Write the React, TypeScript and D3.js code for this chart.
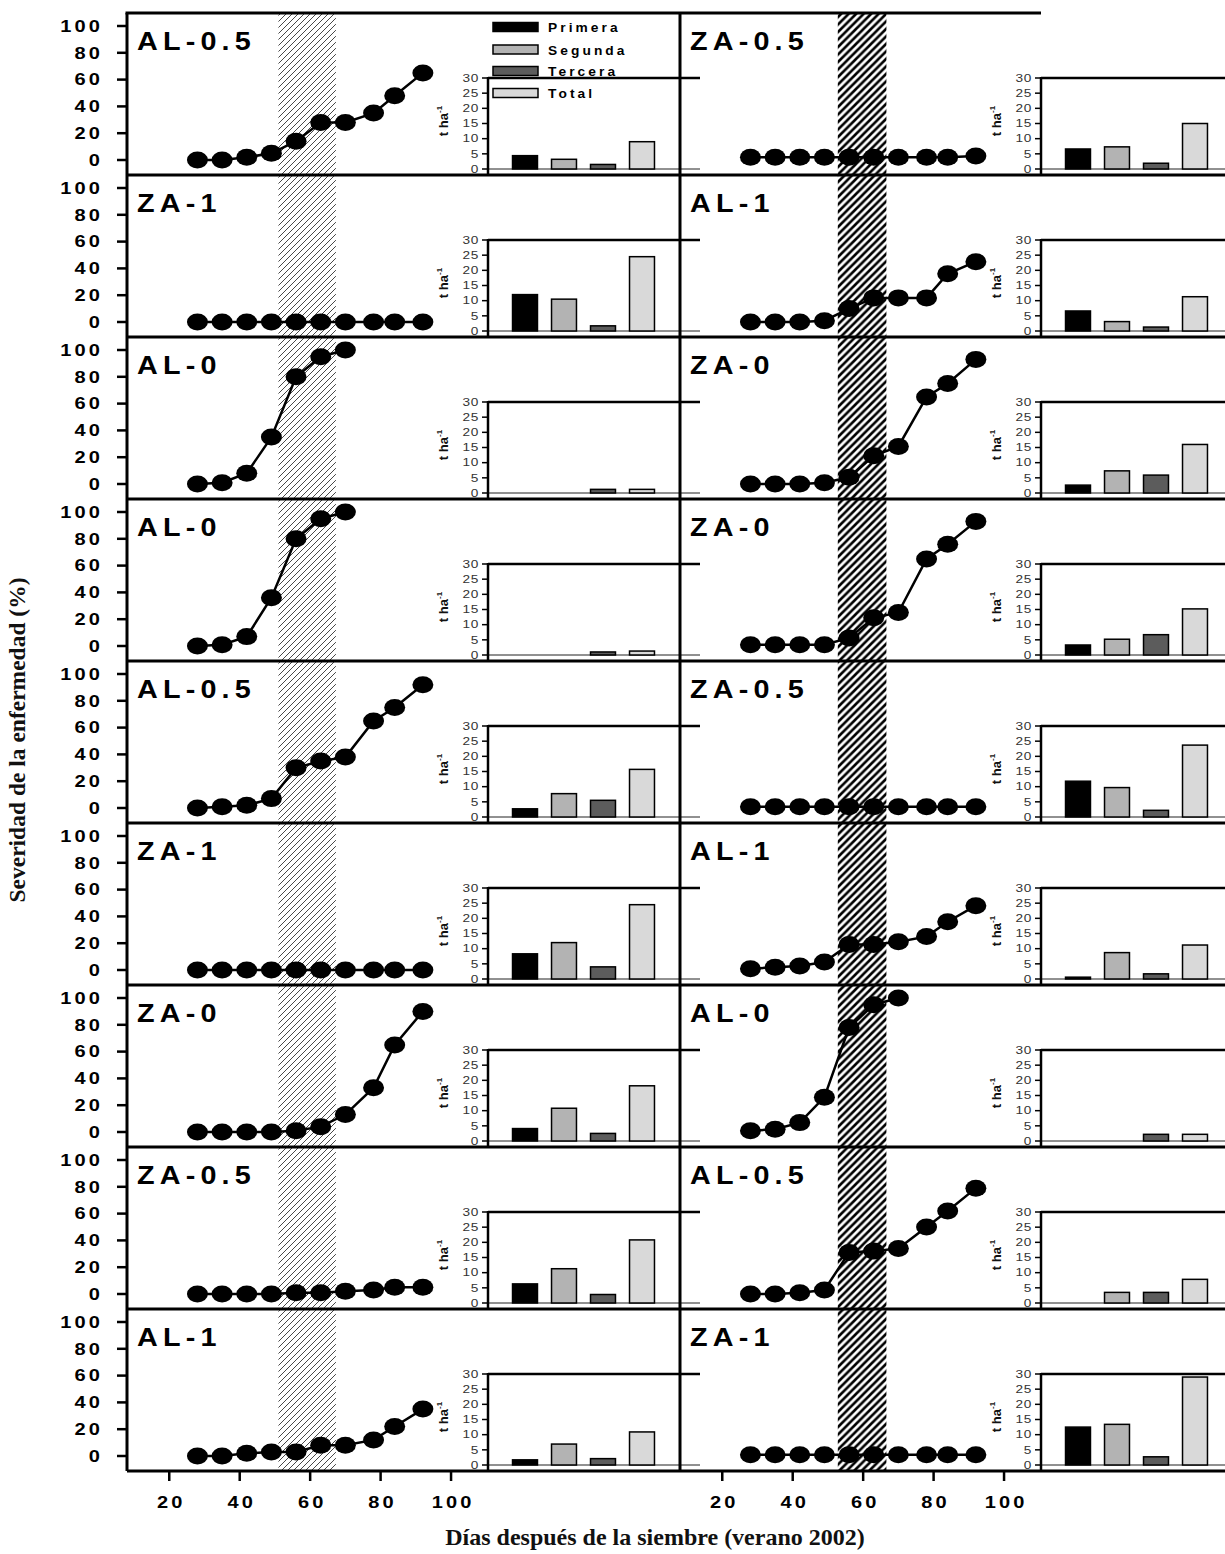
import React from 'react';
import * as d3 from 'd3';

// ---------- data ----------
const DAYS = [28, 35, 42, 49, 56, 63, 70, 78, 84, 92];
const LEFT_LABELS = ['AL-0.5', 'ZA-1', 'AL-0', 'AL-0', 'AL-0.5', 'ZA-1', 'ZA-0', 'ZA-0.5', 'AL-1'];
const RIGHT_LABELS = ['ZA-0.5', 'AL-1', 'ZA-0', 'ZA-0', 'ZA-0.5', 'AL-1', 'AL-0', 'AL-0.5', 'ZA-1'];

const LEFT_SEVERITY = [
  [0, 0, 2, 5, 14, 28, 28, 35, 48, 65],
  [0, 0, 0, 0, 0, 0, 0, 0, 0, 0],
  [0, 1, 8, 35, 80, 95, 100],
  [0, 1, 7, 36, 80, 95, 100],
  [0, 1, 2, 7, 30, 35, 38, 65, 75, 92],
  [0, 0, 0, 0, 0, 0, 0, 0, 0, 0],
  [0, 0, 0, 0, 1, 4, 13, 33, 65, 90],
  [0, 0, 0, 0, 1, 1, 2, 3, 5, 5],
  [0, 0, 2, 3, 3, 8, 8, 12, 22, 35],
];
const RIGHT_SEVERITY = [
  [2, 2, 2, 2, 2, 2, 2, 2, 2, 3],
  [0, 0, 0, 1, 10, 18, 18, 18, 36, 45],
  [0, 0, 0, 1, 5, 21, 28, 65, 75, 93],
  [1, 1, 1, 1, 6, 21, 25, 65, 76, 93],
  [1, 1, 1, 1, 1, 1, 1, 1, 1, 1],
  [1, 2, 3, 6, 19, 19, 21, 25, 36, 48],
  [1, 2, 7, 26, 78, 95, 100],
  [0, 0, 1, 3, 31, 32, 34, 50, 62, 79],
  [1, 1, 1, 1, 1, 1, 1, 1, 1, 1],
];

const CUTS = ['Primera', 'Segunda', 'Tercera', 'Total'];
const CUT_COLORS = ['#000000', '#b3b3b3', '#5c5c5c', '#d9d9d9'];
const LEFT_YIELD = [
  [4.4, 3.2, 1.5, 9.0],
  [12, 10.5, 1.7, 24.5],
  [0, 0, 1.2, 1.2],
  [0, 0, 1, 1.3],
  [2.7, 7.7, 5.5, 15.7],
  [8.3, 12, 4, 24.5],
  [4.1, 10.8, 2.5, 18.2],
  [6.3, 11.3, 2.8, 20.8],
  [1.7, 6.9, 2.1, 10.9],
];
const RIGHT_YIELD = [
  [6.6, 7.3, 1.9, 15],
  [6.6, 3.1, 1.3, 11.3],
  [2.6, 7.3, 5.9, 16],
  [3.3, 5.2, 6.7, 15.2],
  [11.8, 9.7, 2.2, 23.7],
  [0.6, 8.7, 1.7, 11.2],
  [0, 0, 2.2, 2.2],
  [0, 3.5, 3.5, 7.8],
  [12.5, 13.4, 2.7, 29],
];

const SEV_TICKS = [0, 20, 40, 60, 80, 100];
const DAY_TICKS = [20, 40, 60, 80, 100];
const YIELD_TICKS = [0, 5, 10, 15, 20, 25, 30];
const HATCH_LEFT = [51, 67.3];
const HATCH_RIGHT = [52.8, 66.6];

// ---------- layout ----------
const W = 1225;
const H = 1554;
const TOP = 13;
const ROW_H = 162;
const NROWS = 9;
const COL_X = [127, 680];
const COL_W = 553;
const BOTTOM = TOP + NROWS * ROW_H;
const INSET_OFF = 361;
const INSET_W = 192;
const SANS = "'Liberation Sans', Arial, sans-serif";
const SERIF = "'Liberation Serif', 'Times New Roman', serif";

function SText({ x, y, sx = 1, anchor = 'start', size, weight = 'normal', ls = 0, fill = '#000', children }: any) {
  return (
    <text
      transform={`translate(${x},${y}) scale(${sx},1)`}
      textAnchor={anchor}
      fontFamily={SANS}
      fontSize={size}
      fontWeight={weight}
      letterSpacing={ls}
      fill={fill}
    >
      {children}
    </text>
  );
}

function Panel({ col, row, label, sev, yields }: any) {
  const cx = COL_X[col];
  const top = TOP + row * ROW_H;
  const x = d3.scaleLinear().domain([8, 165]).range([cx, cx + COL_W]);
  const y = d3.scaleLinear().domain([0, 100]).range([top + 147, top + 13]);
  const ix0 = cx + INSET_OFF;
  const yy = d3.scaleLinear().domain([0, 30]).range([top + 156, top + 65]);
  const xb = d3
    .scaleBand<string>()
    .domain(CUTS)
    .range([ix0 + 17.5, ix0 + 173.5])
    .paddingInner(0.36)
    .paddingOuter(0.18);
  const pts = sev.map((v: number, i: number) => [DAYS[i], v]);
  const line = d3
    .line<number[]>()
    .x((d) => x(d[0]))
    .y((d) => y(d[1]));

  return (
    <g>
      {/* inset frame */}
      <line x1={ix0} x2={ix0 + INSET_W + 20} y1={top + 65} y2={top + 65} stroke="#000" strokeWidth={2.5} />
      <line x1={ix0} x2={ix0 + INSET_W + 20} y1={yy(0)} y2={yy(0)} stroke="#222" strokeWidth={1} />
      <line x1={ix0} x2={ix0} y1={top + 64} y2={top + ROW_H} stroke="#000" strokeWidth={2.5} />
      {YIELD_TICKS.map((t) => (
        <g key={t}>
          <line x1={ix0 - 6} x2={ix0} y1={yy(t)} y2={yy(t)} stroke="#000" strokeWidth={1.5} />
          <SText x={ix0 - 9} y={yy(t) + 3.8} sx={1.3} anchor="end" size={10.5} ls={0.5} fill="#333">
            {t}
          </SText>
        </g>
      ))}
      <text
        transform={`translate(${ix0 - 40},${top + 108}) rotate(-90)`}
        textAnchor="middle"
        fontFamily={SANS}
        fontSize={13}
        fontWeight="bold"
        fill="#111"
      >
        t ha
        <tspan dy={-6} fontSize={8}>
          -1
        </tspan>
      </text>
      {yields.map((v: number, i: number) =>
        v > 0 ? (
          <rect
            key={i}
            x={xb(CUTS[i])}
            width={xb.bandwidth()}
            y={yy(v)}
            height={yy(0) - yy(v)}
            fill={CUT_COLORS[i]}
            stroke="#000"
            strokeWidth={1.5}
          />
        ) : null
      )}
      {/* severity line */}
      <path d={line(pts) || ''} fill="none" stroke="#000" strokeWidth={2.5} />
      {pts.map((p: number[], i: number) => (
        <ellipse key={i} cx={x(p[0])} cy={y(p[1])} rx={10.5} ry={8.5} fill="#000" />
      ))}
      <SText x={cx + 10} y={top + 37} sx={1.15} size={25} weight="bold" ls={4.5}>
        {label}
      </SText>
    </g>
  );
}

export default function App() {
  const xs = COL_X.map((cx) => d3.scaleLinear().domain([8, 165]).range([cx, cx + COL_W]));
  const hatches = [HATCH_LEFT, HATCH_RIGHT];
  const ixR = COL_X[1] + INSET_OFF;
  return (
    <svg
      width={W}
      height={H}
      viewBox={`0 0 ${W} ${H}`}
      style={{ position: 'absolute', left: 0, top: 0, background: '#fff' }}
    >
      <defs>
        <pattern id="hatchL" patternUnits="userSpaceOnUse" width={6} height={6}>
          <path d="M-1,1 l2,-2 M0,6 l6,-6 M5,7 l2,-2" stroke="#333" strokeWidth={0.9} />
        </pattern>
        <pattern id="hatchR" patternUnits="userSpaceOnUse" width={7.5} height={7.5}>
          <path d="M-1.5,1.5 l3,-3 M0,7.5 l7.5,-7.5 M6,9 l3,-3" stroke="#000" strokeWidth={2.6} />
        </pattern>
      </defs>
      <rect x={0} y={0} width={W} height={H} fill="#fff" />
      {/* hatched periods */}
      {hatches.map((h, c) => (
        <rect
          key={c}
          x={xs[c](h[0])}
          width={xs[c](h[1]) - xs[c](h[0])}
          y={TOP}
          height={BOTTOM - TOP}
          fill={c === 0 ? 'url(#hatchL)' : 'url(#hatchR)'}
        />
      ))}
      {LEFT_LABELS.map((lab, r) => (
        <Panel key={'l' + r} col={0} row={r} label={lab} sev={LEFT_SEVERITY[r]} yields={LEFT_YIELD[r]} />
      ))}
      {RIGHT_LABELS.map((lab, r) => (
        <Panel key={'r' + r} col={1} row={r} label={lab} sev={RIGHT_SEVERITY[r]} yields={RIGHT_YIELD[r]} />
      ))}
      {/* legend */}
      {CUTS.map((c, i) => {
        const lx = COL_X[0] + INSET_OFF + 5;
        const ly = [22.5, 45, 66.5, 88.5][i];
        return (
          <g key={c}>
            <rect x={lx} y={ly} width={45} height={9} fill={CUT_COLORS[i]} stroke="#000" strokeWidth={1.5} />
            <SText x={lx + 55} y={ly + 9.5} sx={1.1} size={12.5} weight="bold" ls={2.8}>
              {c}
            </SText>
          </g>
        );
      })}
      {/* y ticks */}
      {d3.range(NROWS).map((r) => {
        const top = TOP + r * ROW_H;
        const y = d3.scaleLinear().domain([0, 100]).range([top + 147, top + 13]);
        return (
          <g key={r}>
            {SEV_TICKS.map((t) => (
              <g key={t}>
                <line x1={117} x2={127} y1={y(t)} y2={y(t)} stroke="#000" strokeWidth={2.5} />
                <SText x={103} y={y(t) + 5.8} sx={1.25} anchor="end" size={16} weight="bold" ls={2.5}>
                  {t}
                </SText>
              </g>
            ))}
          </g>
        );
      })}
      {/* borders */}
      {d3.range(1, NROWS).map((r) => (
        <line key={r} x1={127} x2={W} y1={TOP + r * ROW_H} y2={TOP + r * ROW_H} stroke="#000" strokeWidth={3} />
      ))}
      <line x1={127} x2={W} y1={BOTTOM} y2={BOTTOM} stroke="#000" strokeWidth={3} />
      <line x1={125.5} x2={680} y1={TOP} y2={TOP} stroke="#000" strokeWidth={3} />
      <line x1={680} x2={ixR} y1={TOP} y2={TOP} stroke="#000" strokeWidth={3} />
      <line x1={127} x2={127} y1={TOP} y2={BOTTOM} stroke="#000" strokeWidth={3} />
      <line x1={680} x2={680} y1={TOP} y2={BOTTOM} stroke="#000" strokeWidth={3} />
      {/* x ticks */}
      {xs.map((x, c) => (
        <g key={c}>
          {DAY_TICKS.map((t) => (
            <g key={t}>
              <line x1={x(t)} x2={x(t)} y1={BOTTOM} y2={BOTTOM + 10} stroke="#000" strokeWidth={2.5} />
              <SText x={x(t) + 2} y={BOTTOM + 37} sx={1.25} anchor="middle" size={16} weight="bold" ls={2.5}>
                {t}
              </SText>
            </g>
          ))}
        </g>
      ))}
      {/* axis titles */}
      <text
        transform={`translate(25,740) rotate(-90)`}
        textAnchor="middle"
        fontFamily={SERIF}
        fontWeight="bold"
        fontSize={23.5}
        fill="#111"
      >
        Severidad de la enfermedad (%)
      </text>
      <text x={655} y={1545} textAnchor="middle" fontFamily={SERIF} fontWeight="bold" fontSize={24} fill="#111">
        Días después de la siembre (verano 2002)
      </text>
    </svg>
  );
}
